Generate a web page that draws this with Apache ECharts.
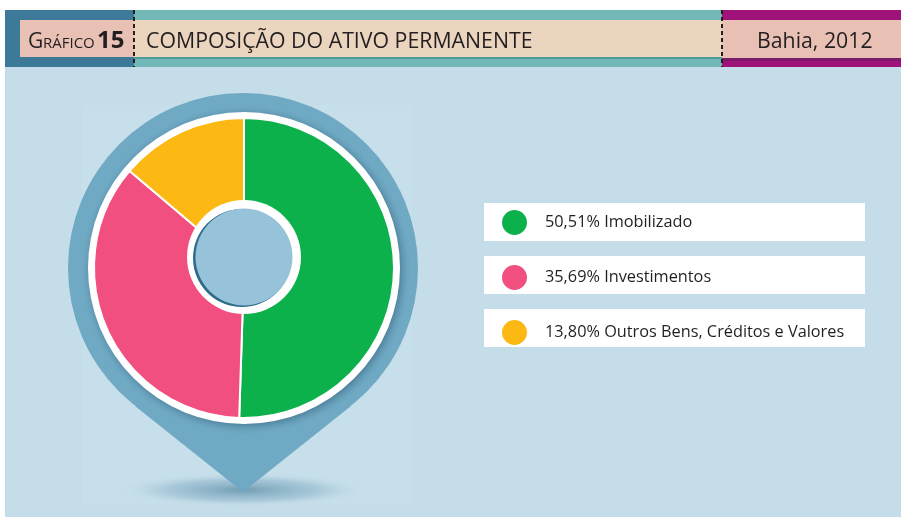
<!DOCTYPE html>
<html style="height: 100%">
<head>
<meta charset="utf-8">
<title>Gráfico 15</title>
<style>
  html, body { margin: 0; padding: 0; background: #ffffff; }
  #chart { width: 901px; height: 517px; }
</style>
</head>
<body>
<div id="chart"></div>
<script src="https://cdn.jsdelivr.net/npm/echarts@6/dist/echarts.min.js"></script>
<script type="text/javascript">
// dados
var categorias = ['Imobilizado', 'Investimentos', 'Outros Bens, Créditos e Valores'];
var valores = [50.51, 35.69, 13.80];
var cores = ['#0db14b', '#f04f7f', '#fdb913'];

var FONTE = '"Open Sans", "Noto Sans", sans-serif';
var cx = 243, cy = 268; // centro do pino
var hx = 244, hy = 257; // centro do furo (um pouco acima)
var base = 48; // linha de base do texto do cabeçalho

var myChart = echarts.init(document.getElementById('chart'));

var dados = [];
for (var i = 0; i < categorias.length; i++) {
  dados.push({ name: categorias[i], value: valores[i], itemStyle: { color: cores[i] } });
}

function fmt(v) {
  return v.toFixed(2).replace('.', ',');
}

// texto do cabeçalho alinhado pela linha de base
function txt(x, s, t, peso) {
  return {
    type: 'text', z: 3,
    style: {
      x: x, y: base - 0.285 * s, text: t, fontFamily: FONTE, fontSize: s,
      fontWeight: peso || 'normal', fill: '#231f20', verticalAlign: 'middle', align: 'left'
    }
  };
}

option = {
  backgroundColor: '#ffffff',
  animation: false,
  graphic: [
    // fundo
    { type: 'rect', z: 0, shape: { x: 5, y: 67, width: 896, height: 450 }, style: { fill: '#c5dde9' } },
    { type: 'rect', z: 0, shape: { x: 82, y: 105, width: 330, height: 400 }, style: { fill: '#c7dfea' } },
    // cabeçalho
    { type: 'rect', z: 1, shape: { x: 5, y: 10, width: 129, height: 57 }, style: { fill: '#3d7a99' } },
    { type: 'rect', z: 1, shape: { x: 134, y: 10, width: 588, height: 57 }, style: { fill: '#72b8b6' } },
    { type: 'rect', z: 1, shape: { x: 722, y: 10, width: 179, height: 57 }, style: { fill: '#9e1279' } },
    { type: 'rect', z: 1, shape: { x: 722, y: 58, width: 179, height: 3 }, style: { fill: '#7d1a6a' } },
    { type: 'rect', z: 1, shape: { x: 134, y: 57, width: 588, height: 2 }, style: { fill: '#4e9c9a' } },
    { type: 'rect', z: 1, shape: { x: 20, y: 20, width: 114, height: 37 }, style: { fill: '#e8c0b4' } },
    { type: 'rect', z: 1, shape: { x: 134, y: 20, width: 588, height: 37 }, style: { fill: '#ebd5bf' } },
    { type: 'rect', z: 1, shape: { x: 722, y: 20, width: 179, height: 38 }, style: { fill: '#e8c0b4' } },
    { type: 'line', z: 2, shape: { x1: 134, y1: 10, x2: 134, y2: 67 }, style: { stroke: '#231f20', lineWidth: 2, lineDash: [4, 3] } },
    { type: 'line', z: 2, shape: { x1: 722, y1: 10, x2: 722, y2: 67 }, style: { stroke: '#231f20', lineWidth: 2, lineDash: [4, 3] } },
    txt(28, 21, 'G'),
    txt(43, 15, 'RÁFICO'),
    txt(97, 24, '15', 'bold'),
    txt(146, 21.3, 'COMPOSIÇÃO DO ATIVO PERMANENTE'),
    txt(757, 21.3, 'Bahia, 2012'),
    // sombra e pino
    {
      type: 'circle', z: 1, x: cx, y: 490, scaleY: 0.14,
      shape: { cx: 0, cy: 0, r: 125 },
      style: {
        fill: { type: 'radial', x: 0.5, y: 0.5, r: 0.5, colorStops: [{ offset: 0, color: 'rgba(85,135,160,0.75)' }, { offset: 0.6, color: 'rgba(120,165,190,0.4)' }, { offset: 1, color: 'rgba(197,221,233,0)' }] }
      }
    },
    { type: 'polygon', z: 1, shape: { points: [[135, 406], [cx, 492], [351, 406]] }, style: { fill: '#6fa9c4' } },
    { type: 'circle', z: 1, shape: { cx: cx, cy: cy, r: 175 }, style: { fill: '#6fa9c4' } },
    {
      type: 'circle', z: 1, shape: { cx: cx + 1, cy: cy, r: 156 },
      style: { fill: '#ffffff', shadowBlur: 8, shadowColor: 'rgba(30,70,95,0.5)', shadowOffsetX: 2, shadowOffsetY: 2 }
    },
    // centro
    { type: 'circle', z: 10, shape: { cx: hx, cy: hy, r: 57 }, style: { fill: '#ffffff' } },
    { type: 'circle', z: 11, shape: { cx: hx - 2, cy: hy + 1, r: 49 }, style: { fill: '#2c6b8a' } },
    { type: 'circle', z: 12, shape: { cx: hx, cy: hy, r: 48.5 }, style: { fill: '#96c3da' } },
    // caixas da legenda
    { type: 'rect', z: 1, shape: { x: 484, y: 203, width: 381, height: 38 }, style: { fill: '#ffffff' } },
    { type: 'rect', z: 1, shape: { x: 484, y: 256, width: 381, height: 38 }, style: { fill: '#ffffff' } },
    { type: 'rect', z: 1, shape: { x: 484, y: 309, width: 381, height: 38 }, style: { fill: '#ffffff' } }
  ],
  legend: {
    orient: 'vertical',
    left: 500,
    top: 208,
    padding: 0,
    itemWidth: 27,
    itemHeight: 27,
    itemGap: 26,
    icon: 'circle',
    data: categorias,
    formatter: function (name) {
      return fmt(valores[categorias.indexOf(name)]) + '% ' + name;
    },
    textStyle: { fontFamily: FONTE, fontSize: 16.3, lineHeight: 20, color: '#231f20', padding: [0, 0, 0, 12] }
  },
  series: [
    {
      type: 'pie',
      z: 5,
      center: [cx + 1, cy],
      radius: [30, 150],
      startAngle: 90,
      clockwise: true,
      silent: true,
      label: { show: false },
      labelLine: { show: false },
      itemStyle: { borderColor: '#ffffff', borderWidth: 2 },
      data: dados
    }
  ]
};
myChart.setOption(option);
</script>
</body>
</html>
